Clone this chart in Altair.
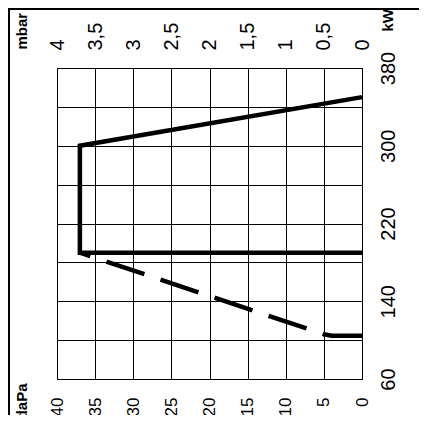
import altair as alt
import pandas as pd

# pressure (daPa) and power (kW)
solid_p = [0, 37, 37, 0]
solid_kw = [350, 300, 190, 190]
dash_p = [37, 5, 4, 0]
dash_kw = [190, 106, 104.5, 104.5]

dapa_ticks = [40, 35, 30, 25, 20, 15, 10, 5, 0]
mbar_labels = ["4", "3,5", "3", "2,5", "2", "1,5", "1", "0,5", "0"]
kw_grid = [60, 100, 140, 180, 220, 260, 300, 340, 380]
kw_labels = [60, 140, 220, 300, 380]

solid_df = pd.DataFrame({"p": solid_p, "kw": solid_kw, "i": range(len(solid_p))})
dash_df = pd.DataFrame({"p": dash_p, "kw": dash_kw, "i": range(len(dash_p))})

FONT = "Liberation Sans"
W, H = 305, 311

xscale = alt.Scale(domain=[0, 40], reverse=True, nice=False, zero=False)
yscale = alt.Scale(domain=[60, 380], nice=False, zero=False)

mbar_expr = "[" + ",".join(f"'{l}'" for l in mbar_labels) + "][indexof([" + \
    ",".join(str(v) for v in dapa_ticks) + "], datum.value)]"
kw_expr = "indexof([" + ",".join(str(v) for v in kw_labels) + "], datum.value) >= 0 ? datum.label : ''"

common_axis = dict(ticks=False, tickSize=0, domain=False, labelFont=FONT,
                   labelColor="#000", labelAngle=270, labelOverlap=False, labelFlush=False,
                   titleFont=FONT, titleFontSize=15, titleFontWeight="bold", titleColor="#000",
                   titleAngle=270, titleBaseline="middle")

x_bottom = alt.Axis(orient="bottom", values=dapa_ticks, grid=True, gridColor="#000", gridWidth=1,
                    gridOpacity=1, labelAlign="right", labelBaseline="middle", labelPadding=18,
                    labelFontSize=17,
                    title="daPa", titleX=-36, titleY=4, titleAlign="right", **common_axis)
x_top = alt.Axis(orient="top", values=dapa_ticks, grid=False, labelExpr=mbar_expr,
                 labelAlign="left", labelBaseline="middle", labelPadding=18, labelFontSize=20,
                 title="mbar", titleX=-36, titleY=-19, titleAlign="left", **common_axis)
y_right = alt.Axis(orient="right", values=kw_grid, grid=True, gridColor="#000", gridWidth=1,
                   gridOpacity=1, labelExpr=kw_expr, labelAlign="center", labelBaseline="top",
                   labelPadding=16, labelFontSize=20, title="kW", titleX=25, titleY=-37,
                   titleAlign="left", **common_axis)

solid = alt.Chart(solid_df).mark_line(color="#000", strokeWidth=4.5, strokeJoin="miter").encode(
    x=alt.X("p:Q", scale=xscale, axis=x_bottom),
    y=alt.Y("kw:Q", scale=yscale, axis=y_right),
    order=alt.Order("i:Q"),
)
dashed = alt.Chart(dash_df).mark_line(color="#000", strokeWidth=4.5, strokeDash=[40, 17],
                                      strokeDashOffset=29, strokeCap="butt").encode(
    x=alt.X("p:Q", scale=xscale, axis=x_top),
    y=alt.Y("kw:Q", scale=yscale, axis=y_right),
    order=alt.Order("i:Q"),
)

frame_top = alt.Chart(pd.DataFrame({"a": [0]})).mark_rule(color="#000", strokeWidth=2).encode(
    x=alt.value(-49), x2=alt.value(375), y=alt.value(-59))
frame_left = alt.Chart(pd.DataFrame({"a": [0]})).mark_rule(color="#000", strokeWidth=2).encode(
    x=alt.value(-48), y=alt.value(-60), y2=alt.value(350))

chart = alt.layer(solid, dashed, frame_top, frame_left).resolve_axis(x="independent").properties(
    width=W, height=H,
    background="white",
    autosize=alt.AutoSizeParams(type="none"),
    padding={"left": 49, "top": 60, "right": 57, "bottom": 36},
).configure_view(stroke="#000", strokeWidth=1)

chart.save("out.html", embed_options={"renderer": "svg", "actions": False})
